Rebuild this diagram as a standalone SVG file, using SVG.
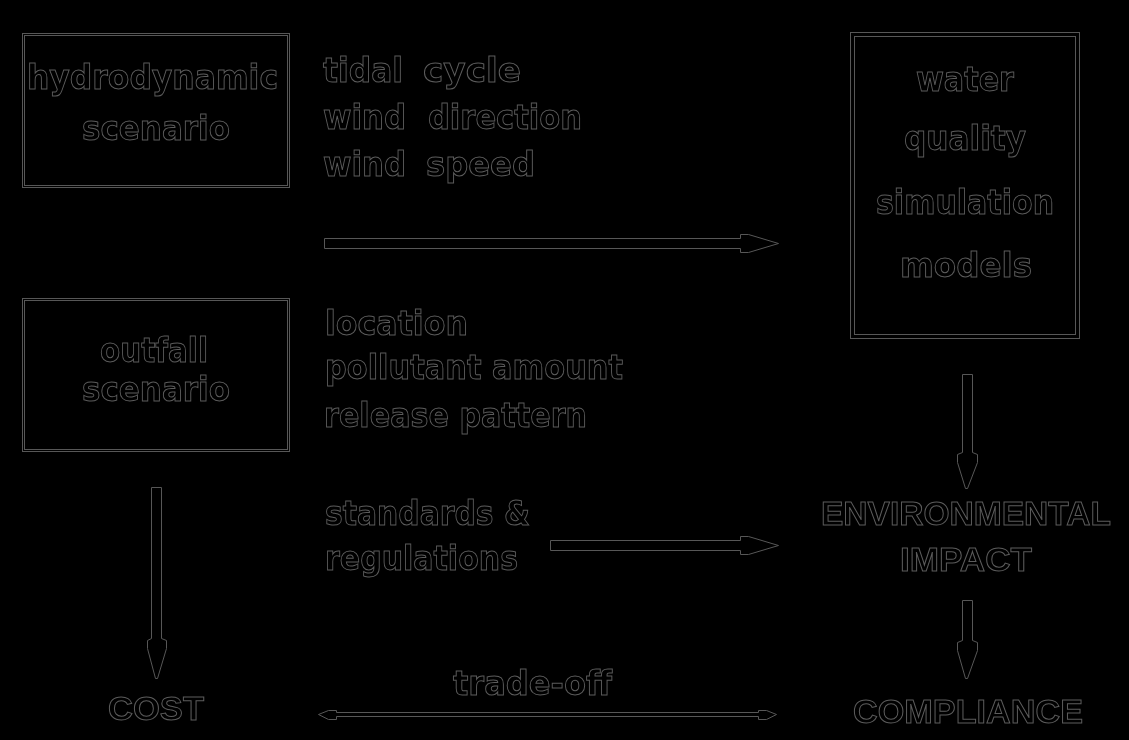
<svg xmlns="http://www.w3.org/2000/svg" width="1129" height="740" viewBox="0 0 1129 740">
<defs>
<filter id="gray" x="0" y="0" width="1129" height="740" filterUnits="userSpaceOnUse"><feColorMatrix type="saturate" values="0"/></filter>
</defs>
<style>
.t{font-family:"DejaVu Sans","Liberation Sans",sans-serif;font-weight:bold;font-size:34px;fill:#000;stroke:#5c5c5c;stroke-width:1}
.c{font-family:"Liberation Sans","DejaVu Sans",sans-serif;font-size:34px}
.b{fill:none;stroke:#575757;stroke-width:1}
.a{fill:#000;stroke:#575757;stroke-width:1;stroke-linejoin:miter}
</style>
<rect x="0" y="0" width="1129" height="740" fill="#000"/>
<g filter="url(#gray)">
<g id="hydrodynamic-scenario">
<rect class="b" x="22.5" y="33.5" width="267" height="154"/>
<rect class="b" x="24.5" y="35.5" width="263" height="150"/>
<text class="t" x="27" y="89" textLength="251" lengthAdjust="spacingAndGlyphs">hydrodynamic</text>
<text class="t" x="82" y="140" textLength="148" lengthAdjust="spacingAndGlyphs">scenario</text>
</g>
<g id="outfall-scenario">
<rect class="b" x="22.5" y="298.5" width="267" height="153"/>
<rect class="b" x="24.5" y="300.5" width="263" height="149"/>
<text class="t" x="100" y="362" textLength="108" lengthAdjust="spacingAndGlyphs">outfall</text>
<text class="t" x="82" y="401" textLength="148" lengthAdjust="spacingAndGlyphs">scenario</text>
</g>
<g id="water-quality-models">
<rect class="b" x="850.5" y="32.5" width="229" height="306"/>
<rect class="b" x="854.5" y="36.5" width="221" height="298"/>
<text class="t" x="916" y="91" textLength="98" lengthAdjust="spacingAndGlyphs">water</text>
<text class="t" x="904" y="150" textLength="122" lengthAdjust="spacingAndGlyphs">quality</text>
<text class="t" x="876" y="214" textLength="178" lengthAdjust="spacingAndGlyphs">simulation</text>
<text class="t" x="900" y="277" textLength="132" lengthAdjust="spacingAndGlyphs">models</text>
</g>
<g id="hydro-params">
<text class="t"><tspan x="323" y="82" textLength="80" lengthAdjust="spacingAndGlyphs">tidal</tspan> <tspan x="423" y="82" textLength="98" lengthAdjust="spacingAndGlyphs">cycle</tspan></text>
<text class="t"><tspan x="323" y="129" textLength="83" lengthAdjust="spacingAndGlyphs">wind</tspan> <tspan x="428" y="129" textLength="154" lengthAdjust="spacingAndGlyphs">direction</tspan></text>
<text class="t"><tspan x="323" y="176" textLength="83" lengthAdjust="spacingAndGlyphs">wind</tspan> <tspan x="426" y="176" textLength="109" lengthAdjust="spacingAndGlyphs">speed</tspan></text>
</g>
<g id="outfall-params">
<text class="t" x="325" y="335" textLength="143" lengthAdjust="spacingAndGlyphs">location</text>
<text class="t" x="325" y="379" textLength="298" lengthAdjust="spacingAndGlyphs">pollutant amount</text>
<text class="t" x="324" y="427" textLength="263" lengthAdjust="spacingAndGlyphs">release pattern</text>
</g>
<g id="standards">
<text class="t" x="325" y="525" textLength="205" lengthAdjust="spacingAndGlyphs">standards &amp;</text>
<text class="t" x="325" y="570" textLength="193" lengthAdjust="spacingAndGlyphs">regulations</text>
</g>
<g id="environmental-impact">
<text class="t c" x="821" y="525" textLength="290" lengthAdjust="spacingAndGlyphs">ENVIRONMENTAL</text>
<text class="t c" x="900" y="571" textLength="132" lengthAdjust="spacingAndGlyphs">IMPACT</text>
</g>
<g id="compliance">
<text class="t c" x="853" y="723" textLength="230" lengthAdjust="spacingAndGlyphs">COMPLIANCE</text>
</g>
<g id="cost">
<text class="t c" x="108" y="720" textLength="96" lengthAdjust="spacingAndGlyphs">COST</text>
</g>
<g id="tradeoff-label">
<text class="t" x="453" y="695" textLength="159" lengthAdjust="spacingAndGlyphs">trade-off</text>
</g>
<g id="connectors">
<polygon class="a" points="324.5,238.5 740.5,238.5 740.5,234.5 748.5,234.5 778.5,243.5 748.5,252.5 740.5,252.5 740.5,248.5 324.5,248.5"/>
<polygon class="a" points="550.5,540.5 740.5,540.5 740.5,536.5 748.5,536.5 778.5,545.5 748.5,554.5 740.5,554.5 740.5,550.5 550.5,550.5"/>
<polygon class="a" points="151.5,487.5 161.5,487.5 161.5,638.5 166.5,640.5 166.5,648.5 157.5,678.5 155.5,678.5 147.5,648.5 147.5,640.5 151.5,638.5"/>
<polygon class="a" points="962.5,374.5 972.5,374.5 972.5,452.5 977.5,454.5 977.5,462.5 967.5,488.5 965.5,488.5 957.5,462.5 957.5,454.5 962.5,452.5"/>
<polygon class="a" points="962.5,600.5 972.5,600.5 972.5,640.5 977.5,642.5 977.5,650.5 967.5,678.5 965.5,678.5 957.5,650.5 957.5,642.5 962.5,640.5"/>
<polygon class="a" points="318.5,714.5 328.5,710.5 336.5,710.5 336.5,712.5 758.5,712.5 758.5,710.5 766.5,710.5 776.5,714.5 766.5,719.5 758.5,719.5 758.5,716.5 336.5,716.5 336.5,719.5 328.5,719.5"/>
</g>
</g>
</svg>
